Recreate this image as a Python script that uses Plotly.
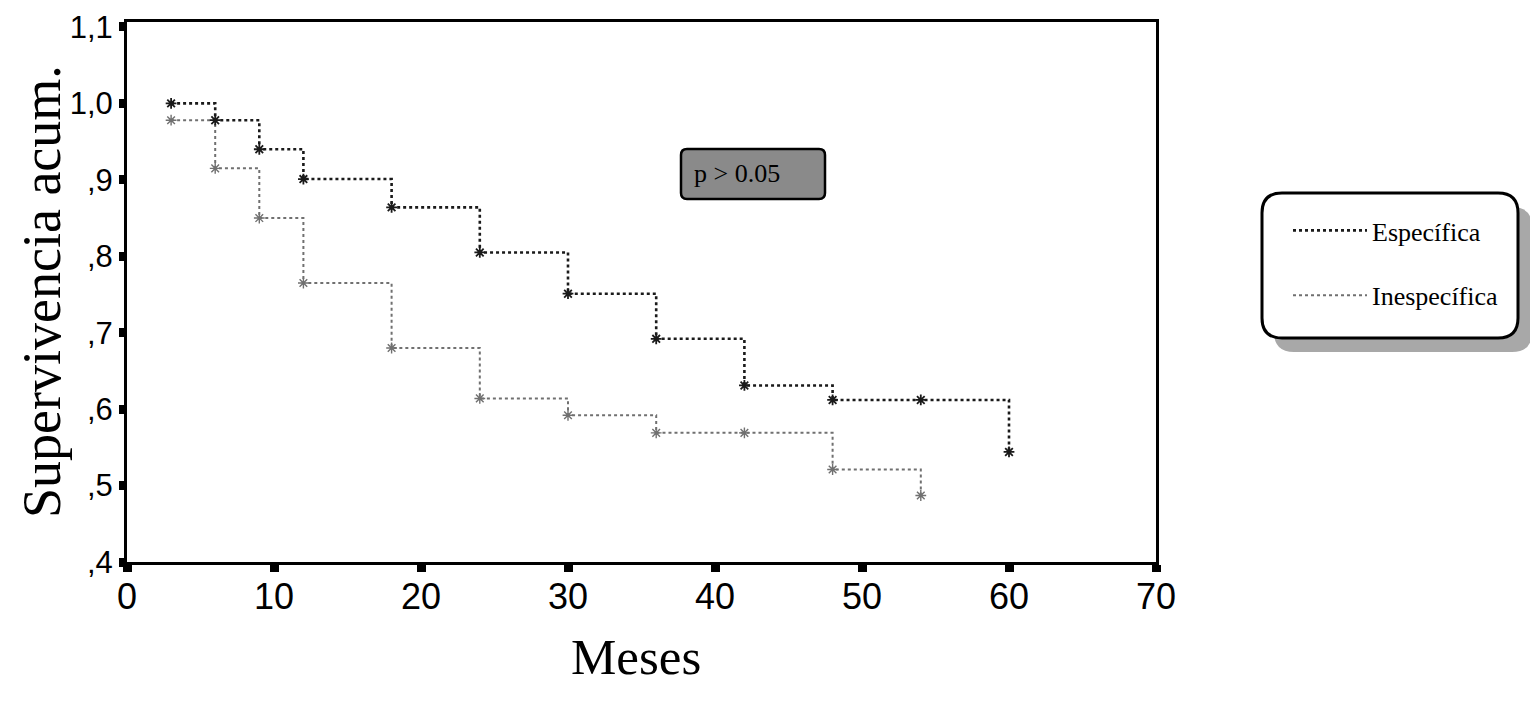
import plotly.graph_objects as go

# ---- data ----
esp_months = [3, 6, 9, 12, 18, 24, 30, 36, 42, 48, 54, 60]
esp_surv = [1.000, 0.978, 0.940, 0.901, 0.864, 0.805, 0.751, 0.692, 0.631, 0.612, 0.612, 0.544]

inesp_months = [3, 6, 9, 12, 18, 24, 30, 36, 42, 48, 54]
inesp_surv = [0.978, 0.915, 0.850, 0.765, 0.680, 0.614, 0.592, 0.569, 0.569, 0.521, 0.487]

x_ticks = [0, 10, 20, 30, 40, 50, 60, 70]
y_ticks = [0.4, 0.5, 0.6, 0.7, 0.8, 0.9, 1.0, 1.1]
y_ticktext = [",4", ",5", ",6", ",7", ",8", ",9", "1,0", "1,1"]

SERIF = "Liberation Serif, Times New Roman, serif"
SANS = "Liberation Sans, Arial, sans-serif"
NARROW = "Liberation Sans Narrow, Arial Narrow, Liberation Sans, Arial, sans-serif"

ESP_COLOR = "#1a1a1a"
INESP_COLOR = "#707070"

fig = go.Figure()
# step lines (shown in legend)
fig.add_trace(go.Scatter(
    x=esp_months, y=esp_surv, name="Específica", mode="lines",
    line=dict(shape="hv", color=ESP_COLOR, width=2.6, dash="dot"),
    legendgroup="a",
))
fig.add_trace(go.Scatter(
    x=inesp_months, y=inesp_surv, name="Inespecífica", mode="lines",
    line=dict(shape="hv", color=INESP_COLOR, width=2.0, dash="dot"),
    legendgroup="b",
))
# event / censor markers
fig.add_trace(go.Scatter(
    x=esp_months, y=esp_surv, mode="markers", showlegend=False, legendgroup="a",
    marker=dict(symbol="asterisk-open", size=9, color=ESP_COLOR, line=dict(width=1.8, color=ESP_COLOR)),
))
fig.add_trace(go.Scatter(
    x=inesp_months, y=inesp_surv, mode="markers", showlegend=False, legendgroup="b",
    marker=dict(symbol="asterisk-open", size=9, color=INESP_COLOR, line=dict(width=1.4, color=INESP_COLOR)),
))

L, R, T, B = 127, 1156, 22, 562
PW, PH = R - L, B - T


def px(xp):
    return (xp - L) / PW


def py(yp):
    return (B - yp) / PH


def rounded(x0, y0, x1, y1, r):
    # pixel coords -> paper path with rounded corners
    rx, ry = r / PW, r / PH
    a0, a1 = px(x0), px(x1)
    b0, b1 = py(y1), py(y0)  # bottom, top in paper
    return (f"M {a0+rx} {b1} L {a1-rx} {b1} Q {a1} {b1} {a1} {b1-ry} "
            f"L {a1} {b0+ry} Q {a1} {b0} {a1-rx} {b0} L {a0+rx} {b0} "
            f"Q {a0} {b0} {a0} {b0+ry} L {a0} {b1-ry} Q {a0} {b1} {a0+rx} {b1} Z")


shapes = [
    # legend shadow
    dict(type="path", xref="paper", yref="paper", path=rounded(1274, 207, 1532, 352, 20),
         fillcolor="#a8a8a8", line=dict(width=0), layer="below"),
    # legend box
    dict(type="path", xref="paper", yref="paper", path=rounded(1262, 193, 1518, 338, 20),
         fillcolor="white", line=dict(color="black", width=3), layer="below"),
    # p-value box
    dict(type="path", xref="paper", yref="paper", path=rounded(681, 149, 825, 199, 6),
         fillcolor="#8a8a8a", line=dict(color="black", width=2.5)),
]

annotations = [
    dict(text="p > 0.05", xref="paper", yref="paper", x=px(692), y=py(173),
         showarrow=False, font=dict(family=SERIF, size=26, color="black"),
         xanchor="left", yanchor="middle"),
    dict(text="Supervivencia acum.", xref="paper", yref="paper", x=px(42), y=py(292),
         textangle=-90, showarrow=False, font=dict(family=SERIF, size=54, color="black"),
         xanchor="center", yanchor="middle"),
    dict(text="Meses", xref="paper", yref="paper", x=px(636), y=py(657),
         showarrow=False, font=dict(family=SERIF, size=51, color="black"),
         xanchor="center", yanchor="middle"),
]

fig.update_layout(
    width=1530, height=701,
    margin=dict(l=L, r=1530 - R, t=T, b=701 - B, autoexpand=False),
    paper_bgcolor="white", plot_bgcolor="white",
    showlegend=True,
    legend=dict(x=px(1288), y=py(207), xanchor="left", yanchor="top",
                bgcolor="rgba(0,0,0,0)", borderwidth=0,
                font=dict(family=SERIF, size=26, color="black"),
                tracegroupgap=28, itemwidth=74),
    shapes=shapes,
    annotations=annotations,
)

fig.update_xaxes(
    range=[0, 70], tickvals=x_ticks, ticktext=[str(v) for v in x_ticks],
    showgrid=False, zeroline=False,
    showline=True, linecolor="black", linewidth=3, mirror=True,
    ticks="outside", ticklen=7, tickwidth=9, tickcolor="black",
    ticklabelstandoff=-6,
    tickfont=dict(family=NARROW, size=36, color="black"),
)
fig.update_yaxes(
    range=[0.4, 1.1065], tickvals=y_ticks, ticktext=y_ticktext,
    showgrid=False, zeroline=False,
    showline=True, linecolor="black", linewidth=3, mirror=True,
    ticks="outside", ticklen=5, tickwidth=9, tickcolor="black",
    tickfont=dict(family=SANS, size=31, color="black"),
)

fig.write_html("out.html", config={"displayModeBar": False},
               post_script="document.body.style.margin='0';")
